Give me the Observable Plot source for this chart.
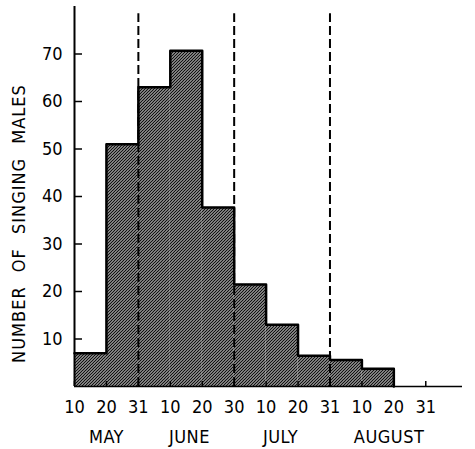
<!DOCTYPE html>
<html><head><meta charset="utf-8">
<script src="https://cdn.jsdelivr.net/npm/d3@7"></script>
<script src="https://cdn.jsdelivr.net/npm/@observablehq/plot@0.6"></script>
<style>body{margin:0;background:#fff}</style>
</head><body><div id="chart"></div>
<script>
// ten-day periods: edges indexed 0..11 (May 10 ... Aug 31)
const edges = [0,1,2,3,4,5,6,7,8,9,10,11];
const tickLabels = ["10","20","31","10","20","30","10","20","31","10","20","31"];
const counts = [7, 51, 63, 70.7, 37.7, 21.5, 13, 6.5, 5.6, 3.75];
const months = ["MAY","JUNE","JULY","AUGUST"];
const monthCenters = [1, 3.6, 6.45, 9.85];
const monthEnds = [2, 5, 8];
const yTicks = [10,20,30,40,50,60,70];
const yLabel = "NUMBER OF SINGING MALES";

const bars = counts.map((c, i) => ({x1: i, x2: i + 1, y: c}));
const outline = counts.map((c, i) => ({x: i, y: c})).concat([{x: counts.length, y: 0}]);
const monthData = months.map((m, i) => ({m, x: monthCenters[i]}));

const font = "'DejaVu Sans Condensed', 'DejaVu Sans', sans-serif";

const plot = Plot.plot({
  width: 475,
  height: 449,
  marginLeft: 74,
  marginRight: 13,
  marginTop: 6,
  marginBottom: 63,
  style: {fontFamily: font, fontSize: "18px", color: "#000", background: "#fff", overflow: "visible"},
  x: {domain: [0, 12.15]},
  y: {domain: [0, 80]},
  marks: [
    Plot.rectY(bars, {x1: "x1", x2: "x2", y: "y", fill: "url(#hatch)", inset: 0}),
    Plot.ruleX(monthEnds, {y1: 0, y2: 78.5, stroke: "#000", strokeWidth: 2, strokeDasharray: "9,4"}),
    Plot.line(outline, {x: "x", y: "y", curve: "step-after", stroke: "#000", strokeWidth: 2.5}),
    Plot.ruleX([0], {y1: 0, y2: 80, stroke: "#000", strokeWidth: 2}),
    Plot.ruleY([0], {x1: 0, x2: 12.15, stroke: "#000", strokeWidth: 1.5}),
    Plot.axisY(yTicks, {tickSize: -8, tickFormat: () => "", strokeWidth: 1.5, label: null}),
    Plot.axisY(yTicks, {tickSize: 0, tickPadding: 12, label: null, fontSize: 18}),
    Plot.axisX(edges, {tickSize: -5, tickFormat: () => "", strokeWidth: 1.5, label: null}),
    Plot.axisX(edges, {tickSize: 0, tickPadding: 14, tickFormat: i => tickLabels[i], label: null, fontSize: 18}),
    Plot.text(monthData, {x: "x", text: "m", frameAnchor: "bottom", dy: 51, lineAnchor: "middle", fontSize: 18}),
    Plot.text([yLabel], {frameAnchor: "left", rotate: -90, dx: -55, dy: 27, fontSize: 18, lineAnchor: "middle", textAnchor: "middle"})
  ]
});

d3.select(plot).insert("defs", ":first-child").html(`
  <pattern id="hatch" patternUnits="userSpaceOnUse" width="3" height="3">
    <rect width="3" height="3" fill="#d8d8d8"/>
    <path d="M-1,1 l2,-2 M0,3 l3,-3 M2,4 l2,-2" stroke="#111" stroke-width="1.3"/>
  </pattern>`);

// wider spacing on the rotated axis title and month names
d3.select(plot).selectAll("text")
  .filter(function() { return this.textContent === yLabel; })
  .style("letter-spacing", "1px").style("word-spacing", "8px");
d3.select(plot).selectAll("text")
  .filter(function() { return months.includes(this.textContent); })
  .style("letter-spacing", "0.5px");

document.getElementById("chart").appendChild(plot);
</script>
</body></html>
